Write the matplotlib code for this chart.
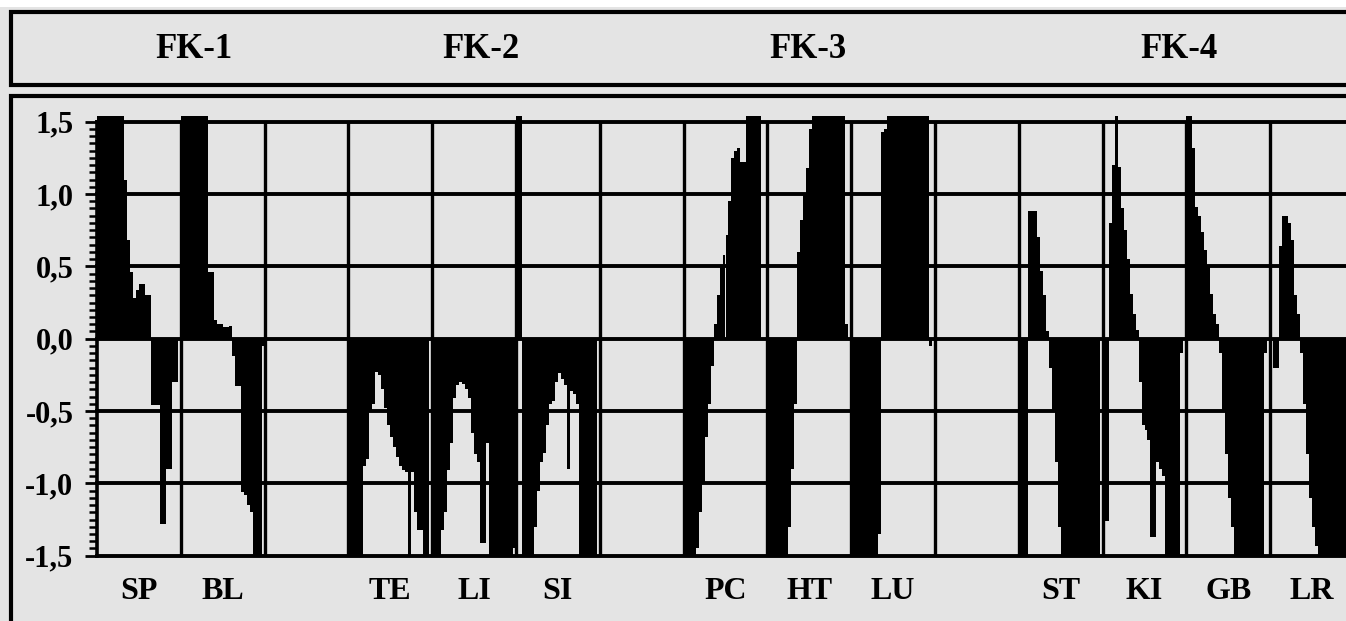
import numpy as np
import matplotlib
matplotlib.use('Agg')
import matplotlib.pyplot as plt
from matplotlib.patches import Rectangle
from matplotlib.ticker import MultipleLocator

# profile values, 28 bars per meridian column (values > 1.5 are cut by the scale)
sp = [1.6, 1.6, 1.6, 1.6, 1.6, 1.6, 1.6, 1.6, 1.6, 1.1, 0.68, 0.46, 0.28, 0.34,
      0.38, 0.38, 0.30, 0.30, -0.46, -0.46, -0.46, -1.28, -1.28, -0.90, -0.90, -0.30, -0.30, 0.0]
bl = [1.6, 1.6, 1.6, 1.6, 1.6, 1.6, 1.6, 1.6, 1.6, 0.46, 0.46, 0.13, 0.10, 0.10,
      0.08, 0.08, 0.09, -0.12, -0.33, -0.33, -1.06, -1.08, -1.15, -1.2, -1.5, -1.5, -1.5, -0.05]
te = [-1.5, -1.5, -1.5, -1.5, -1.5, -0.88, -0.83, -0.5, -0.45, -0.23, -0.25, -0.35, -0.48, -0.6,
      -0.68, -0.75, -0.82, -0.88, -0.91, -0.92, -1.5, -0.92, -1.2, -1.32, -1.32, -1.5, -1.5, 0.0]
li = [-1.5, -1.5, -1.5, -1.32, -1.2, -0.91, -0.72, -0.41, -0.32, -0.3, -0.31, -0.35, -0.41, -0.65,
      -0.8, -0.85, -1.41, -1.41, -0.72, -1.5, -1.5, -1.5, -1.5, -1.5, -1.5, -1.5, -1.5, -1.45]
si = [1.6, 1.6, -1.5, -1.5, -1.5, -1.5, -1.3, -1.05, -0.85, -0.79, -0.6, -0.45, -0.43, -0.3,
      -0.24, -0.28, -0.32, -0.9, -0.36, -0.38, -0.45, -1.5, -1.5, -1.5, -1.5, -1.5, -1.5, 0.0]
pc = [-1.5, -1.5, -1.5, -1.5, -1.45, -1.2, -1.0, -0.68, -0.45, -0.19, 0.1, 0.3, 0.5, 0.58,
      0.72, 0.95, 1.25, 1.3, 1.32, 1.22, 1.22, 1.6, 1.6, 1.6, 1.6, 1.6, 0.0, 0.0]
ht = [-1.5, -1.5, -1.5, -1.5, -1.5, -1.5, -1.5, -1.3, -0.9, -0.45, 0.6, 0.82, 1.0, 1.18,
      1.45, 1.6, 1.6, 1.6, 1.6, 1.6, 1.6, 1.6, 1.6, 1.6, 1.6, 1.6, 0.1, 0.0]
lu = [-1.5, -1.5, -1.5, -1.5, -1.5, -1.5, -1.5, -1.5, -1.5, -1.35, 1.43, 1.45, 1.6, 1.6,
      1.6, 1.6, 1.6, 1.6, 1.6, 1.6, 1.6, 1.6, 1.6, 1.6, 1.6, 1.6, -0.05, 0.0]
st = [-1.5, -1.5, -1.5, 0.88, 0.88, 0.88, 0.7, 0.47, 0.3, 0.05, -0.2, -0.5, -0.85, -1.3,
      -1.5, -1.5, -1.5, -1.5, -1.5, -1.5, -1.5, -1.5, -1.5, -1.5, -1.5, -1.5, -1.5, 0.0]
ki = [-1.26, -1.26, 0.8, 1.2, 1.6, 1.19, 0.9, 0.75, 0.55, 0.31, 0.17, 0.06, -0.3, -0.6,
      -0.63, -0.7, -1.37, -1.37, -0.85, -0.9, -0.95, -1.5, -1.5, -1.5, -1.5, -1.5, -0.1, 0.0]
gb = [1.6, 1.6, 1.32, 0.91, 0.85, 0.74, 0.61, 0.5, 0.31, 0.17, 0.1, -0.1, -0.5, -0.8,
      -1.1, -1.3, -1.5, -1.5, -1.5, -1.5, -1.5, -1.5, -1.5, -1.5, -1.5, -1.5, -0.1, 0.0]
lr = [0.0, -0.2, -0.2, 0.64, 0.85, 0.85, 0.8, 0.68, 0.3, 0.17, -0.1, -0.45, -0.8, -1.1,
      -1.3, -1.43, -1.5, -1.5, -1.5, -1.5, -1.5, -1.5, -1.5, -1.5, -1.5, -1.5, -1.5, -1.5]

columns = [sp, bl, None, te, li, si, None, pc, ht, lu, None, st, ki, gb, lr]
col_labels = ['SP', 'BL', '', 'TE', 'LI', 'SI', '', 'PC', 'HT', 'LU', '', 'ST', 'KI', 'GB', 'LR']
groups = ['FK-1', 'FK-2', 'FK-3', 'FK-4']
yticks = [-1.5, -1.0, -0.5, 0.0, 0.5, 1.0, 1.5]

W, H = 1346, 621
BG = '#e4e4e4'
plt.rcParams['font.family'] = ['Liberation Serif', 'DejaVu Serif']
plt.rcParams['font.weight'] = 'bold'

fig = plt.figure(figsize=(W / 100, H / 100), dpi=100, facecolor=BG)

# white strip on top, header box and panel box (pixel coords -> figure fraction)
def box(x0, y0, x1, y1, **kw):
    r = Rectangle((x0 / W, 1 - y1 / H), (x1 - x0) / W, (y1 - y0) / H,
                  transform=fig.transFigure, zorder=-5, **kw)
    fig.patches.append(r)

box(0, 0, W, 7, facecolor='white', edgecolor='none')
box(11, 12, W + 20, 85, facecolor=BG, edgecolor='black', lw=3)
box(11, 96, W + 20, H + 20, facecolor=BG, edgecolor='black', lw=3)

header_px = [194, 481, 808, 1179]
for name, xp in zip(groups, header_px):
    fig.text(xp / W, 1 - 49 / H, name, ha='center', va='center',
             fontsize=25, fontweight='bold')

col_w = 83.8
ax = fig.add_axes([97 / W, (H - 555.7) / H, (W - 97) / W, (555.7 - 115.9) / H])
ax.set_facecolor('none')

for c, vals in enumerate(columns):
    if vals is None:
        continue
    n = len(vals)
    x = c + (np.arange(n) + 0.5) / n
    ax.bar(x, vals, width=1 / n, color='black', linewidth=0, antialiased=False, zorder=2)

ax.set_xlim(0, (W - 97) / col_w)
ax.set_ylim(-1.5, 1.54)

# thick black grid
for yv in yticks:
    ax.axhline(yv, color='black', lw=2.8, clip_on=False, zorder=3)
ax.vlines(np.arange(1, len(columns)), -1.5, 1.5, color='black', lw=2.4, zorder=3)

for s in ['top', 'right', 'bottom']:
    ax.spines[s].set_visible(False)
ax.spines['left'].set_linewidth(2.6)
ax.spines['left'].set_bounds(-1.5, 1.5)

ax.set_yticks(yticks)
ax.set_yticklabels([('%.1f' % v).replace('.', ',') for v in yticks])
ax.yaxis.set_minor_locator(MultipleLocator(0.05))
ax.tick_params(axis='y', which='major', length=9, width=2, pad=8, labelsize=22)
ax.tick_params(axis='y', which='minor', length=6, width=1.8)

lab_pos = [i + 0.5 for i, l in enumerate(col_labels) if l]
ax.set_xticks(lab_pos)
ax.set_xticklabels([l for l in col_labels if l])
ax.tick_params(axis='x', length=0, pad=15, labelsize=23)

fig.savefig('out.png', dpi=100, facecolor=BG)
